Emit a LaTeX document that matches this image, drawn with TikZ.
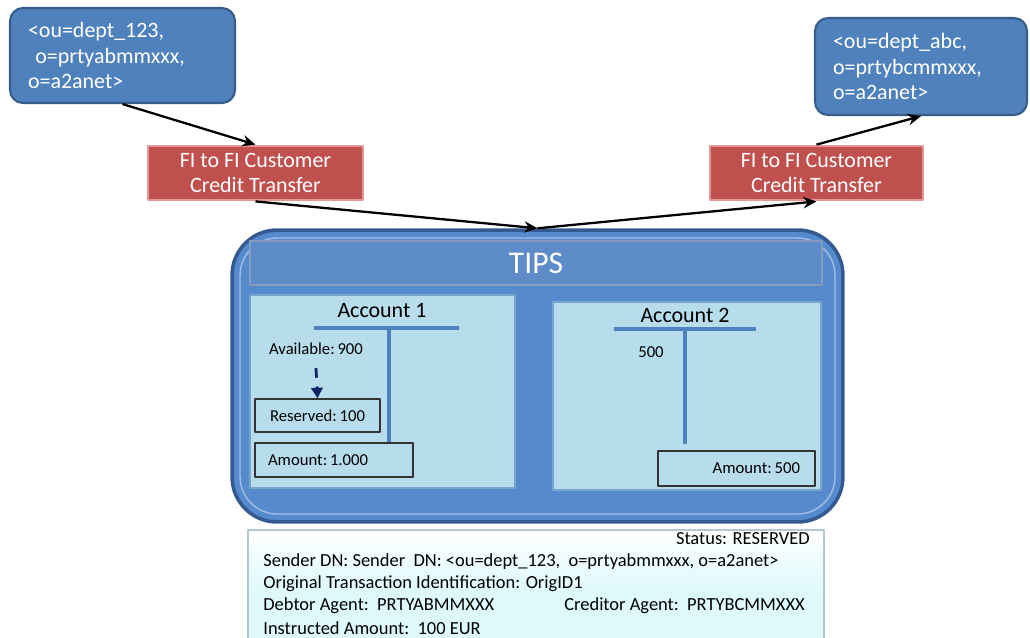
\documentclass[tikz,border=0pt]{standalone}
\usepackage{fontspec}
\setmainfont{Carlito}
\usetikzlibrary{positioning,arrows.meta}

\definecolor{idblue}{RGB}{79,129,189}
\definecolor{idrim}{RGB}{56,93,138}
\definecolor{msgred}{RGB}{192,80,77}
\definecolor{msgrim}{RGB}{226,152,150}
\definecolor{tipsblue}{RGB}{85,138,205}
\definecolor{tipsrim}{RGB}{52,90,145}
\definecolor{headblue}{RGB}{94,140,200}
\definecolor{panelblue}{RGB}{183,221,236}
\definecolor{panelrim}{RGB}{120,165,205}
\definecolor{tcolor}{RGB}{79,129,189}
\definecolor{navy}{RGB}{16,37,99}
\definecolor{infofill}{RGB}{222,249,252}
\definecolor{inforim}{RGB}{180,200,212}

\tikzset{
  dnbox/.style={rectangle, rounded corners=0.26cm, fill=idblue, draw=idrim, line width=1.2pt,
    text=white, align=left, inner xsep=0.36cm, font=\fontsize{12.5}{14.7}\selectfont},
  msgbox/.style={rectangle, fill=msgred, draw=msgrim, line width=1.6pt, text=white, align=center,
    minimum height=1.08cm, font=\fontsize{12.5}{14.3}\selectfont},
  panel/.style={rectangle, fill=panelblue, draw=panelrim, line width=0.8pt},
  valbox/.style={rectangle, draw=black!80, line width=0.8pt, font=\fontsize{9.5}{11}\selectfont},
  small/.style={font=\fontsize{9.5}{11}\selectfont},
  infotext/.style={font=\fontsize{10.5}{12}\selectfont, inner sep=0pt},
  tbar/.style={draw=tcolor, line width=2.2pt},
  flow/.style={->, line width=1.3pt},
}

\begin{document}
\begin{tikzpicture}[x=0.02cm, y=-0.02cm, line join=round, >={Stealth[length=7.5pt,width=6.5pt]}]
  \useasboundingbox (0,0) rectangle (1030,637);

  % sender and receiver
  \node[dnbox, text width=3.78cm, minimum height=1.9cm] (idL) at (122.5,55.5)
    {<ou=dept\_123,\\\ o=prtyabmmxxx,\\o=a2anet>};
  \node[dnbox, text width=3.52cm, minimum height=1.94cm] (idR) at (921,66.5)
    {<ou=dept\_abc,\\o=prtybcmmxxx,\\o=a2anet>};

  % messages
  \node[msgbox, minimum width=4.3cm] (msgL) at (255.5,173) {FI to FI Customer\\Credit Transfer};
  \node[msgbox, minimum width=4.26cm] (msgR) at (816.5,173) {FI to FI Customer\\Credit Transfer};

  % TIPS
  \node[rectangle, rounded corners=0.9cm, fill=tipsblue, draw=tipsrim, line width=2pt,
    minimum width=12.22cm, minimum height=5.84cm] (tips) at (537.5,376) {};
  \draw[tipsblue!55!white, line width=0.8pt, rounded corners=0.75cm] (240,238) rectangle (835,514);
  \node[rectangle, fill=headblue, draw=tipsrim!60, line width=0.8pt, minimum width=11.44cm,
    minimum height=0.88cm, text=white, font=\fontsize{18}{20}\selectfont] (head) at (536,263) {TIPS};

  \node[panel, minimum width=5.3cm, minimum height=3.86cm] (acc1box) at (382.5,391.5) {};
  \node[panel, minimum width=5.36cm, minimum height=3.76cm] (acc2box) at (687,396) {};

  % account 1
  \node[font=\fontsize{12.5}{14}\selectfont] (acc1) at (382,311) {Account 1};
  \draw[tbar] (314,328) -- (459,328);
  \draw[tbar] (389,328) -- (389,444);
  \node[small] (avail) at (316,349) {Available:\,900};
  \node[valbox, minimum width=2.5cm, minimum height=0.66cm] (res) at (317.5,415.5) {Reserved:\,100};
  \node[valbox, minimum width=3.16cm, minimum height=0.68cm, text width=2.64cm, inner xsep=0.26cm,
    align=left] (amt1) at (334,460) {Amount:\,1.000};
  \draw[navy, line width=1.6pt, dash pattern=on 5.5pt off 5pt,
    -{Triangle[length=6pt,width=6.5pt]}] (avail.south) ++(0,7) -- (res.north);

  % account 2
  \node[font=\fontsize{12.5}{14}\selectfont] (acc2) at (685,315) {Account 2};
  \draw[tbar] (614,329) -- (756,329);
  \draw[tbar] (685,329) -- (685,444);
  \node[small] (bal2) at (651,352) {500};
  \node[valbox, minimum width=3.14cm, minimum height=0.7cm, text width=2.54cm, inner xsep=0.3cm,
    align=right] (amt2) at (736.5,468.5) {Amount:\,500};

  % flows
  \draw[flow] (idL.south) -- (msgL.north);
  \draw[flow] (msgL.south) -- (tips.north);
  \draw[flow] (tips.north) -- (msgR.south);
  \draw[flow] (msgR.north) -- (idR.south);

  % status of the payment
  \fill[top color=white, bottom color=infofill, middle color=infofill, draw=inforim, line width=1pt]
    (248,530) rectangle (824,650);
  \node[infotext, anchor=east] (status) at (810,539) {Status: RESERVED};
  \node[infotext, anchor=west] (sender) at (263,562)
    {Sender DN: Sender\ \ DN: <ou=dept\_123,\ \ o=prtyabmmxxx, o=a2anet>};
  \node[infotext, anchor=west] (orig) at (263,584) {Original Transaction Identification: OrigID1};
  \node[infotext, anchor=west] (debtor) at (263,606) {Debtor Agent:\ \ PRTYABMMXXX};
  \node[infotext, anchor=east] (creditor) at (805,606) {Creditor Agent:\ \ PRTYBCMMXXX};
  \node[infotext, anchor=west] (instr) at (263,628) {Instructed Amount:\ \ 100 EUR};
\end{tikzpicture}
\end{document}
